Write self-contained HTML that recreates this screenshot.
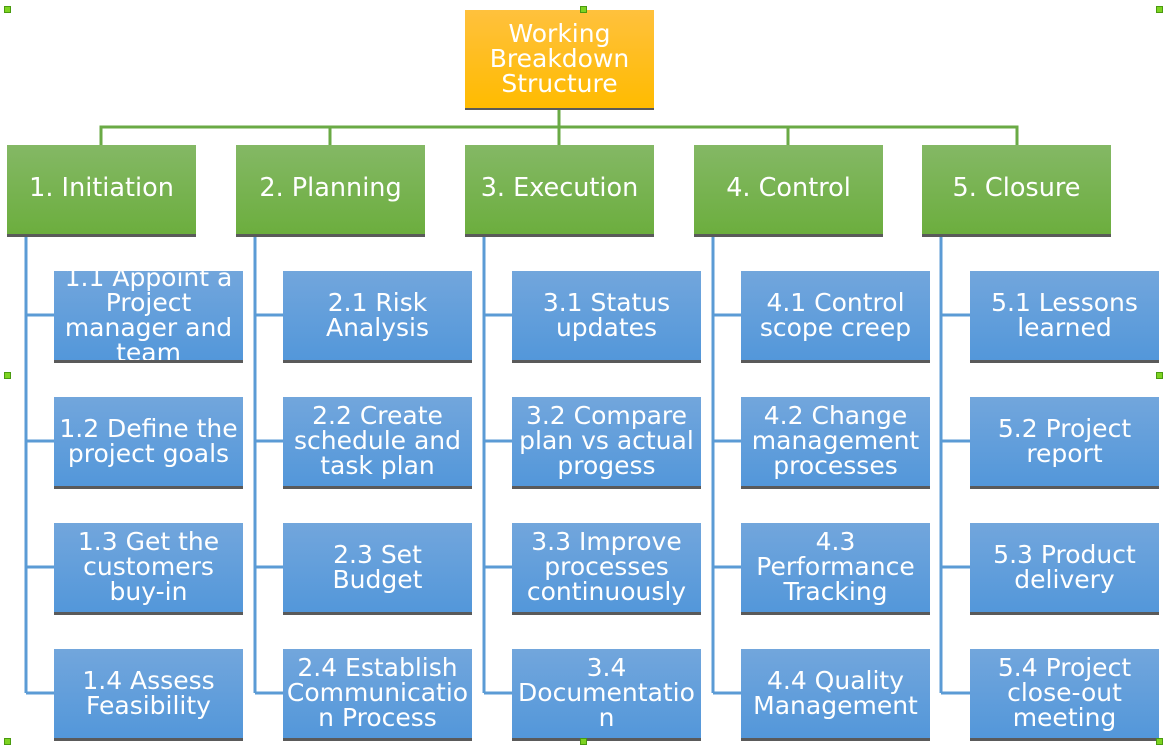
<!DOCTYPE html>
<html><head><meta charset="utf-8"><style>
body{margin:0;width:1171px;height:748px;background:#fff;position:relative;overflow:hidden;font-family:"DejaVu Sans","Liberation Sans",sans-serif}
.b{position:absolute;width:189px;height:87px;padding-bottom:2px;border-bottom:3px solid #5a5a5a;color:#fff;display:flex;align-items:center;justify-content:center;text-align:center;overflow:hidden;font-size:25px;line-height:25px;white-space:nowrap;box-sizing:content-box}
.g{background:linear-gradient(#84b865,#6cae3e);font-size:25.5px}
.u{background:linear-gradient(#72a6dc,#5397da)}
.o{background:linear-gradient(#ffc13d,#ffbb00);height:96px;border-bottom:2px solid #5a5a5a}
.h{position:absolute;width:5px;height:5px;background:#7dd321;border:1px solid #4a9a10}
svg{position:absolute;left:0;top:0}
</style></head><body>
<svg width="1171" height="748">
<g stroke="#6aaa45" stroke-width="3" fill="none">
<path d="M559 110V127M101 145V127H1017V145M330 127V145M559 127V145M788 127V145"/>
</g>
<g stroke="#5b9bd5" stroke-width="3" fill="none">
<path d="M26 237V693M26 315H54M26 441H54M26 567H54M26 693H54"/>
<path d="M255 237V693M255 315H283M255 441H283M255 567H283M255 693H283"/>
<path d="M484 237V693M484 315H512M484 441H512M484 567H512M484 693H512"/>
<path d="M713 237V693M713 315H741M713 441H741M713 567H741M713 693H741"/>
<path d="M941 237V693M941 315H970M941 441H970M941 567H970M941 693H970"/>
</g>
</svg>
<div class="b o" style="left:465px;top:10px">Working<br>Breakdown<br>Structure</div>
<div class="b g" style="left:7px;top:145px">1. Initiation</div>
<div class="b g" style="left:236px;top:145px">2. Planning</div>
<div class="b g" style="left:465px;top:145px">3. Execution</div>
<div class="b g" style="left:694px;top:145px">4. Control</div>
<div class="b g" style="left:922px;top:145px">5. Closure</div>

<div class="b u" style="left:54px;top:271px">1.1 Appoint a<br>Project<br>manager and<br>team</div>
<div class="b u" style="left:54px;top:397px">1.2 Define the<br>project goals</div>
<div class="b u" style="left:54px;top:523px">1.3 Get the<br>customers<br>buy-in</div>
<div class="b u" style="left:54px;top:649px">1.4 Assess<br>Feasibility</div>

<div class="b u" style="left:283px;top:271px">2.1 Risk<br>Analysis</div>
<div class="b u" style="left:283px;top:397px">2.2 Create<br>schedule and<br>task plan</div>
<div class="b u" style="left:283px;top:523px">2.3 Set<br>Budget</div>
<div class="b u" style="left:283px;top:649px">2.4 Establish<br>Communicatio<br>n Process</div>

<div class="b u" style="left:512px;top:271px">3.1 Status<br>updates</div>
<div class="b u" style="left:512px;top:397px">3.2 Compare<br>plan vs actual<br>progess</div>
<div class="b u" style="left:512px;top:523px">3.3 Improve<br>processes<br>continuously</div>
<div class="b u" style="left:512px;top:649px">3.4<br>Documentatio<br>n</div>

<div class="b u" style="left:741px;top:271px">4.1 Control<br>scope creep</div>
<div class="b u" style="left:741px;top:397px">4.2 Change<br>management<br>processes</div>
<div class="b u" style="left:741px;top:523px">4.3<br>Performance<br>Tracking</div>
<div class="b u" style="left:741px;top:649px">4.4 Quality<br>Management</div>

<div class="b u" style="left:970px;top:271px">5.1 Lessons<br>learned</div>
<div class="b u" style="left:970px;top:397px">5.2 Project<br>report</div>
<div class="b u" style="left:970px;top:523px">5.3 Product<br>delivery</div>
<div class="b u" style="left:970px;top:649px">5.4 Project<br>close-out<br>meeting</div>

<div class="h" style="left:4px;top:6px"></div>
<div class="h" style="left:580px;top:6px"></div>
<div class="h" style="left:1156px;top:6px"></div>
<div class="h" style="left:4px;top:372px"></div>
<div class="h" style="left:1156px;top:372px"></div>
<div class="h" style="left:4px;top:738px"></div>
<div class="h" style="left:580px;top:738px"></div>
<div class="h" style="left:1156px;top:738px"></div>
</body></html>
